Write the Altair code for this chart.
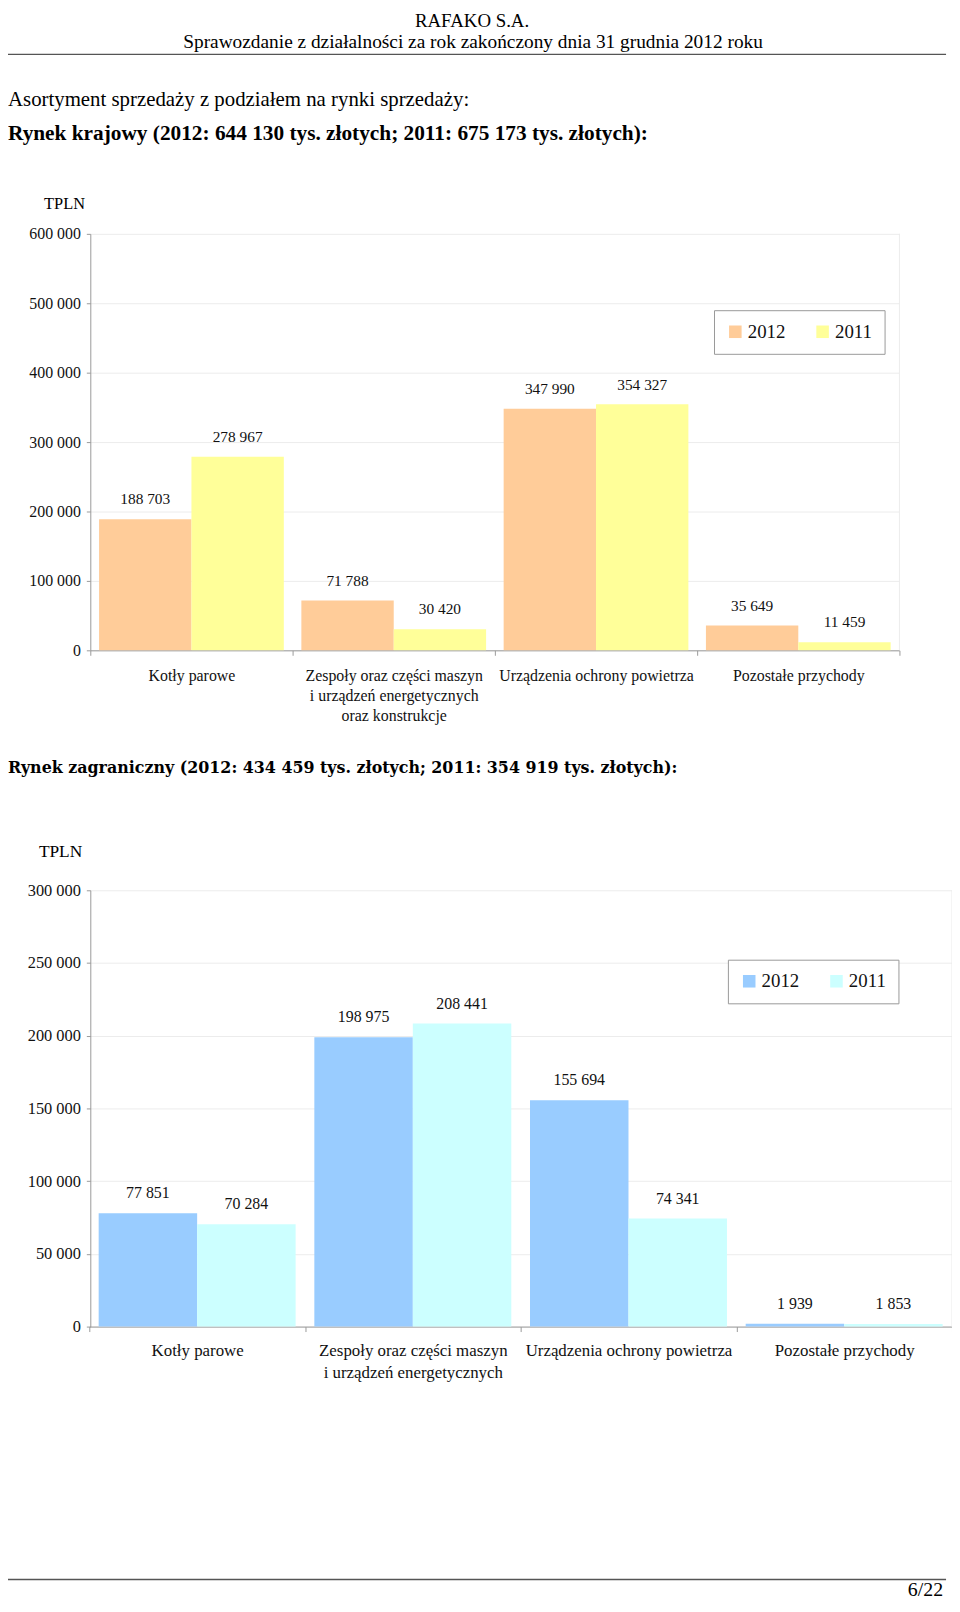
import altair as alt
import pandas as pd

# ---------------- data ----------------
years = ["2012", "2011"]

dom_categories = [
    "Kotły parowe",
    "Zespoły oraz części maszyn\ni urządzeń energetycznych\noraz konstrukcje",
    "Urządzenia ochrony powietrza",
    "Pozostałe przychody",
]
dom_2012 = [188703, 71788, 347990, 35649]
dom_2011 = [278967, 30420, 354327, 11459]
dom_ticks = [0, 100000, 200000, 300000, 400000, 500000, 600000]
dom_colors = ["#FFCC99", "#FFFF99"]

exp_categories = [
    "Kotły parowe",
    "Zespoły oraz części maszyn\ni urządzeń energetycznych",
    "Urządzenia ochrony powietrza",
    "Pozostałe przychody",
]
exp_2012 = [77851, 198975, 155694, 1939]
exp_2011 = [70284, 208441, 74341, 1853]
exp_ticks = [0, 50000, 100000, 150000, 200000, 250000, 300000]
exp_colors = ["#99CCFF", "#CCFFFF"]

header_company = "RAFAKO S.A."
header_report = "Sprawozdanie z działalności za rok zakończony dnia 31 grudnia 2012 roku"
intro_text = "Asortyment sprzedaży z podziałem na rynki sprzedaży:"
dom_title = "Rynek krajowy (2012: 644 130 tys. złotych; 2011: 675 173 tys. złotych):"
exp_title = "Rynek zagraniczny (2012:  434 459 tys. złotych; 2011: 354 919 tys. złotych):"
unit_label = "TPLN"
page_label = "6/22"

# ---------------- style / layout ----------------
SERIF = "Liberation Serif"
AX = "#9a9a9a"
GRID = "#ececec"
W, H = 870, 1596
FMT = "replace(replace(format(datum.value, ','), ',', ' '), ',', ' ')"


def long_df(cats, v12, v11):
    rows = []
    for c, a, b in zip(cats, v12, v11):
        rows.append({"cat": c, "year": years[0], "value": a})
        rows.append({"cat": c, "year": years[1], "value": b})
    return pd.DataFrame(rows)


def panel(df, cats, ticks, colors, x_range, y_range, y_off, x_off,
          legend_x, legend_y, label_dy, cat_size, cat_lh, cat_pad,
          ylab_size, bar_lab_size):
    xenc = alt.X(
        "cat:N", sort=cats,
        scale=alt.Scale(range=x_range, paddingInner=0, paddingOuter=0),
        axis=alt.Axis(
            orient="bottom", offset=x_off, title=None, labelAngle=0,
            labelAlign="center",
            labelExpr="split(datum.label, '\\n')", labelFont=SERIF,
            labelFontSize=cat_size, labelColor="#111", labelLineHeight=cat_lh,
            labelPadding=cat_pad, labelLimit=400, tickBand="extent", tickSize=5,
            tickColor=AX, domainColor=AX, grid=False, labelBaseline="top",
        ),
    )
    yenc = alt.Y(
        "value:Q",
        scale=alt.Scale(domain=[ticks[0], ticks[-1]], range=y_range, nice=False),
        axis=alt.Axis(
            orient="left", values=ticks, labelExpr=FMT, title=None, grid=True,
            gridColor=GRID, tickSize=4, tickColor=AX, domainColor=AX,
            labelFont=SERIF, labelFontSize=ylab_size, labelColor="#111",
            labelPadding=6, offset=y_off,
        ),
    )
    base = alt.Chart(df).encode(
        x=xenc,
        xOffset=alt.XOffset("year:N", sort=years,
                            scale=alt.Scale(paddingInner=0, paddingOuter=0.095)),
        y=yenc,
    )
    bars = base.mark_bar().encode(
        color=alt.Color(
            "year:N", sort=years,
            scale=alt.Scale(domain=years, range=colors),
            legend=alt.Legend(
                orient="none", legendX=legend_x, legendY=legend_y,
                direction="horizontal", title=None, symbolType="square",
                symbolSize=160, symbolStrokeWidth=0, symbolOpacity=1,
                labelFont=SERIF, labelFontSize=19, labelColor="#111",
                columnPadding=28, padding=12, strokeColor="#999",
                fillColor="white", labelOffset=3,
            ),
        )
    )
    labels = base.transform_calculate(lbl=FMT).mark_text(
        dy=label_dy, fontSize=bar_lab_size, font=SERIF, color="#111",
        baseline="middle",
    ).encode(text="lbl:N")
    border = alt.Chart(
        pd.DataFrame({"cat": [cats[-1]], "lo": [ticks[0]], "hi": [ticks[-1]]})
    ).mark_rule(color=GRID, strokeWidth=1).encode(
        x=alt.X("cat:N", sort=cats, bandPosition=1),
        y="lo:Q", y2="hi:Q",
    )
    return alt.layer(border, bars, labels)


def txt(s, x, y, size, weight="normal", align="left", font=SERIF, baseline="middle"):
    return alt.Chart(pd.DataFrame({"t": [s]})).mark_text(
        align=align, baseline=baseline, fontSize=size, fontWeight=weight,
        font=font, color="#000",
    ).encode(x=alt.value(x), y=alt.value(y), text="t:N")


def hline(x1, x2, y, color="#555", width=1.5):
    return alt.Chart(pd.DataFrame({"a": [0]})).mark_rule(
        color=color, strokeWidth=width
    ).encode(x=alt.value(x1), x2=alt.value(x2), y=alt.value(y))


dom_df = long_df(dom_categories, dom_2012, dom_2011)
exp_df = long_df(exp_categories, exp_2012, exp_2011)

p1 = panel(dom_df, dom_categories, dom_ticks, dom_colors,
           x_range=[1, 817], y_range=[641, 221], y_off=-1, x_off=641 - H,
           legend_x=630, legend_y=298, label_dy=-20,
           cat_size=16, cat_lh=20.5, cat_pad=12, ylab_size=16, bar_lab_size=15.5)
p2 = panel(exp_df, exp_categories, exp_ticks, exp_colors,
           x_range=[0, 870], y_range=[1323, 883], y_off=-1, x_off=1323 - H,
           legend_x=644, legend_y=953, label_dy=-20,
           cat_size=17, cat_lh=22.5, cat_pad=11, ylab_size=16.5, bar_lab_size=16)

texts = [
    txt(header_company, 386, -2.5, 19, align="center", baseline="top"),
    txt(header_report, 387, 28, 19.5, align="center"),
    hline(-82, 864, 40),
    txt(intro_text, -82, 86, 21),
    txt(dom_title, -82, 120, 21.5, weight="bold"),
    txt(unit_label, -25, 191, 16.5, align="center"),
    txt(exp_title, -82, 760, 16, weight="bold", font="DejaVu Serif"),
    txt(unit_label, -29, 844, 17.5, align="center"),
    hline(-82, 864, 1578),
    txt(page_label, 861, 1595, 20, align="right", baseline="alphabetic"),
]

chart = alt.layer(p1, p2, *texts).resolve_scale(
    x="independent", y="independent", xOffset="independent", color="independent"
).properties(
    width=W, height=H,
    padding={"left": 82, "top": 0, "right": 0, "bottom": 0},
    autosize=alt.AutoSizeParams(type="none"),
    background="white",
).configure_view(stroke=None)

chart.save("out.html", embed_options={"renderer": "svg", "actions": False})
